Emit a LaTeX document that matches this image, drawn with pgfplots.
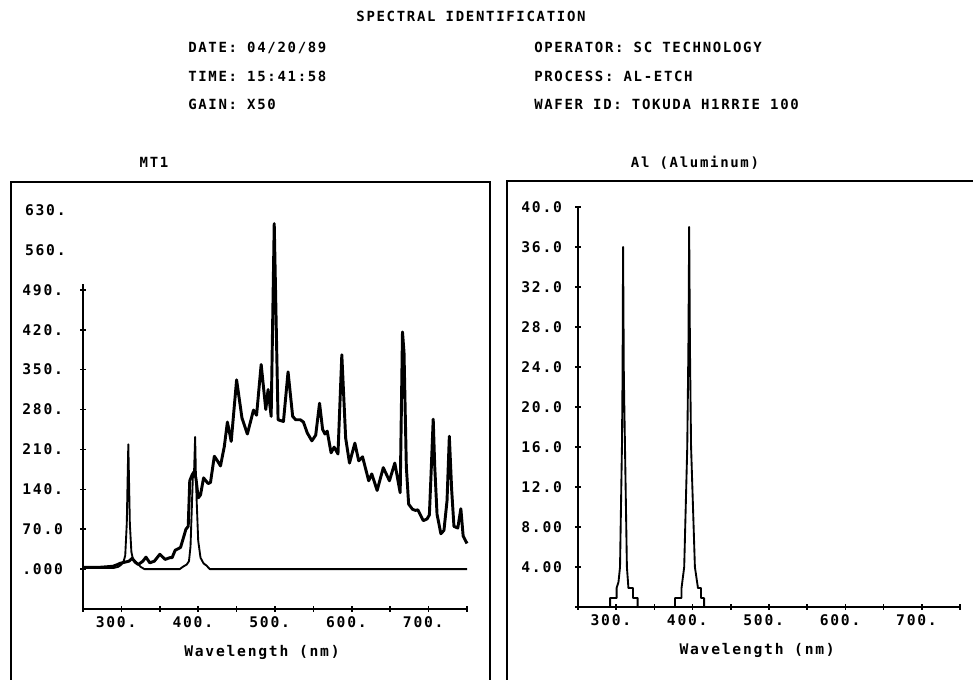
\documentclass[border=0pt]{standalone}
\usepackage{fontspec}
\setmainfont{DejaVu Sans Mono}[UprightFont={* Bold},BoldFont={* Bold},LetterSpace=12]
\usepackage{pgfplots}
\pgfplotsset{compat=1.18}

\pgfplotstableread{
x y
250 3
260 3
270 3
280 4
289 5
295 8
298 10
304 12
310 14
314 19
318 12
322 8
328 14
332 21
337 11
343 14
350 26
357 17
363 20
366 20
370 33
377 38
381 56
384 70
387 75
389 155
392 165
394 170
397 160
400 125
403 130
407 160
413 150
416 152
421 198
425 190
429 181
434 215
438 258
443 224
450 332
457 265
464 237
472 279
476 270
482 359
488 280
491 315
495 268
499 606
504 262
511 259
517 346
523 268
527 262
533 262
537 258
542 239
548 225
553 235
558 291
562 245
565 237
568 242
573 204
577 214
582 202
587 376
592 230
597 186
604 221
609 190
614 197
622 155
626 167
633 138
641 178
649 155
656 186
663 134
666 416
668 380
671 180
674 114
679 105
683 103
686 104
693 85
698 88
701 95
703 160
706 263
708 180
711 96
716 62
720 68
724 120
727 233
730 140
733 75
738 72
742 106
745 58
750 45
}\mtspec

\pgfplotstableread{
x y
250 2
290 2
296 4
300 8
303 14
305 24
307 80
308 150
309 219
310 150
311 80
313 30
315 18
318 14
321 10
325 4
330 0
376 0
380 4
385 8
388 14
390 40
392 120
393 160
394.5 165
396 232
397 165
398 120
400 50
403 20
407 10
411 6
415 0
750 0
}\alref

\pgfplotstableread{
x y
250 0
292 0
292 0.9
300.5 0.9
300.5 1.9
303 2.5
305 4
307.5 16
308.3 23
309 36
310 23
311.5 16
314 4
316 1.9
322 1.9
322 0.9
328 0.9
328 0
377 0
377 0.9
385.5 0.9
385.5 1.9
389 4
393 16
394.5 26
395.5 38
396.5 26
398 16
403 4
407 1.9
411 1.9
411 0.9
415 0.9
415 0
750 0
}\alspec

\pgfplotsset{specax/.style={
  scale only axis, axis lines*=left,
  xmin=250, xmax=750,
  xtick={250,300,...,750},
  xticklabels={,300.,,400.,,500.,,600.,,700.,},
  tick align=center, major tick length=4pt,
  every tick/.style={black, line width=1.2pt},
  axis line style={line width=1.3pt},
  tick label style={font=\fontsize{11}{13}\selectfont},
  xticklabel style={xshift=-4pt},
  xlabel={Wavelength (nm)},
  label style={font=\fontsize{11}{13}\selectfont},
  clip=false,
}}

\begin{document}
\begin{tikzpicture}
\useasboundingbox (0,0) rectangle (729.75pt,509.25pt);
\def\hdr{\fontsize{10.5}{12}\selectfont}
\node[anchor=base, inner sep=0, font=\hdr] at (353.25pt,493pt) {SPECTRAL IDENTIFICATION};
\node[anchor=base west, inner sep=0, font=\hdr] at (141pt,469.5pt) {DATE: 04/20/89};
\node[anchor=base west, inner sep=0, font=\hdr] at (141pt,447.75pt) {TIME: 15:41:58};
\node[anchor=base west, inner sep=0, font=\hdr] at (141pt,426.75pt) {GAIN: X50};
\node[anchor=base west, inner sep=0, font=\hdr] at (400.5pt,469.5pt) {OPERATOR: SC TECHNOLOGY};
\node[anchor=base west, inner sep=0, font=\hdr] at (400.5pt,447.75pt) {PROCESS: AL-ETCH};
\node[anchor=base west, inner sep=0, font=\hdr] at (400.5pt,426.75pt) {WAFER ID: TOKUDA H1RRIE 100};
\node[anchor=base, inner sep=0, font=\hdr] at (115.5pt,383.25pt) {MT1};
\node[anchor=base, inner sep=0, font=\hdr] at (521.25pt,383.25pt) {Al (Aluminum)};
\draw[line width=1.2pt] (8.25pt,-10pt) -- (8.25pt,372.75pt) -- (367.5pt,372.75pt) -- (367.5pt,-10pt);
\draw[line width=1.2pt] (380.25pt,-10pt) -- (380.25pt,373.5pt) -- (745pt,373.5pt);

\begin{axis}[specax, at={(62.25pt,52.5pt)}, anchor=south west,
  width=288pt, height=299.25pt, ymin=-70, ymax=630,
  ytick={0,70,...,490},
  yticklabels={.000,70.0,140.,210.,280.,350.,420.,490.},
  extra y ticks={560,630}, extra y tick labels={560.,630.},
  extra y tick style={major tick length=0pt},
  yticklabel style={xshift=-9.5pt},
  y axis line style={draw=none},
  xlabel style={at={(rel axis cs:0.466,0)}, anchor=north, yshift=-24pt}]
\draw[line width=1.3pt] (axis cs:250,-70) -- (axis cs:250,500);
\addplot[black, line width=1.4pt, line join=round] table {\alref};
\addplot[black, line width=2.2pt, line join=round] table {\mtspec};
\end{axis}

\begin{axis}[specax, at={(433.5pt,54pt)}, anchor=south west,
  width=286.5pt, height=300pt, ymin=0, ymax=40,
  ytick={0,4,...,40},
  yticklabels={,4.00,8.00,12.0,16.0,20.0,24.0,28.0,32.0,36.0,40.0},
  yticklabel style={xshift=-6.5pt},
  xlabel style={at={(rel axis cs:0.469,0)}, anchor=north, yshift=-24pt}]
\addplot[black, line width=1.4pt, line join=round] table {\alspec};
\end{axis}
\end{tikzpicture}
\end{document}
